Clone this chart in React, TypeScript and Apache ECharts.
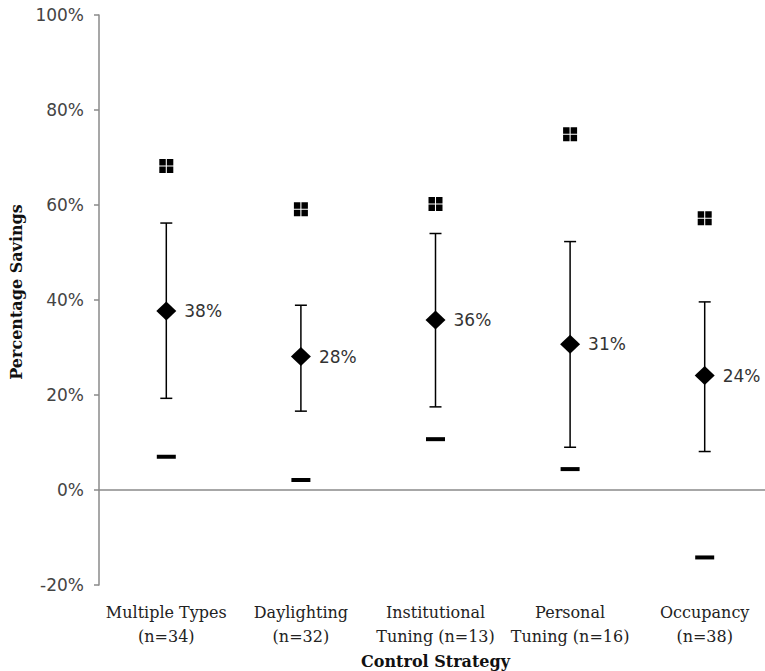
import React, { useEffect, useRef } from "react";
import * as echarts from "echarts";

const categories = [
  "Multiple Types\n(n=34)",
  "Daylighting\n(n=32)",
  "Institutional\nTuning (n=13)",
  "Personal\nTuning (n=16)",
  "Occupancy\n(n=38)",
];
const maxVals = [68.2, 59.1, 60.2, 74.9, 57.2];
const meanVals = [37.7, 28.1, 35.8, 30.7, 24.1];
const upperVals = [56.2, 38.9, 54.0, 52.3, 39.6];
const lowerVals = [19.3, 16.6, 17.5, 9.0, 8.1];
const minVals = [7.0, 2.1, 10.7, 4.4, -14.2];
const yTicks = { min: -20, max: 100, interval: 20 };

const SQUARE_PATH =
  "path://M0,0h6v6h-6z M7,0h6v6h-6z M0,7h6v6h-6z M7,7h6v6h-6z";

export default function App() {
  const ref = useRef<HTMLDivElement>(null);
  useEffect(() => {
    document.body.style.margin = "0";
    const chart = echarts.init(ref.current!, null, { renderer: "svg" });
    const errData = categories.map((_, i) => [i, lowerVals[i], upperVals[i]]);
    chart.setOption({
      animation: false,
      backgroundColor: "#fff",
      grid: {
        left: 99,
        top: 15,
        width: 673,
        height: 570,
        containLabel: false,
        outerBoundsMode: "none",
      },
      xAxis: [
        {
          type: "category",
          data: categories,
          position: "bottom",
          name: "Control Strategy",
          nameLocation: "middle",
          nameGap: 68,
          nameTextStyle: {
            fontFamily: "DejaVu Serif",
            fontWeight: "bold",
            fontSize: 16,
            color: "#111",
          },
          axisLine: { show: false, onZero: false },
          axisTick: { show: false },
          axisLabel: {
            fontFamily: "DejaVu Serif",
            fontSize: 16,
            color: "#222",
            margin: 15,
            lineHeight: 24,
            interval: 0,
          },
        },
        {
          type: "category",
          data: categories,
          position: "bottom",
          axisLine: { show: true, onZero: true, lineStyle: { color: "#8a8a8a", width: 1.5 } },
          axisTick: { show: false },
          axisLabel: { show: false },
        },
      ],
      yAxis: {
        type: "value",
        min: yTicks.min,
        max: yTicks.max,
        interval: yTicks.interval,
        name: "Percentage Savings",
        nameLocation: "middle",
        nameGap: 70,
        nameTextStyle: {
          fontFamily: "DejaVu Serif",
          fontWeight: "bold",
          fontSize: 16,
          color: "#111",
          padding: [0, 0, 0, 16],
        },
        axisLine: { show: true, lineStyle: { color: "#8a8a8a", width: 1.5 } },
        axisTick: { show: true, length: 5, inside: false, lineStyle: { color: "#8a8a8a", width: 1.5 } },
        splitLine: { show: false },
        axisLabel: {
          formatter: "{value}%",
          fontFamily: "DejaVu Sans",
          fontSize: 17,
          color: "#444",
          margin: 15,
        },
      },
      series: [
        {
          type: "custom",
          name: "range",
          data: errData,
          encode: { x: 0, y: [1, 2] },
          z: 2,
          renderItem: (params: any, api: any) => {
            const x = api.value(0);
            const pLo = api.coord([x, api.value(1)]);
            const pHi = api.coord([x, api.value(2)]);
            const w = 6;
            const style = { stroke: "#000", lineWidth: 1.5 };
            return {
              type: "group",
              children: [
                { type: "line", shape: { x1: pHi[0], y1: pHi[1], x2: pLo[0], y2: pLo[1] }, style },
                { type: "line", shape: { x1: pHi[0] - w, y1: pHi[1], x2: pHi[0] + w, y2: pHi[1] }, style },
                { type: "line", shape: { x1: pLo[0] - w, y1: pLo[1], x2: pLo[0] + w, y2: pLo[1] }, style },
              ],
            };
          },
        },
        {
          type: "scatter",
          name: "mean",
          data: meanVals,
          symbol: "diamond",
          symbolSize: [20, 19],
          itemStyle: { color: "#000", opacity: 1 },
          z: 5,
          label: {
            show: true,
            position: "right",
            distance: 8,
            formatter: (p: any) => `${Math.round(p.value)}%`,
            fontFamily: "DejaVu Sans",
            fontSize: 17,
            color: "#333",
          },
        },
        {
          type: "scatter",
          name: "max",
          data: maxVals,
          symbol: SQUARE_PATH,
          symbolSize: 14,
          itemStyle: { color: "#000", opacity: 1 },
          z: 5,
        },
        {
          type: "scatter",
          name: "min",
          data: minVals,
          symbol: "rect",
          symbolSize: [19, 4],
          itemStyle: { color: "#000", opacity: 1 },
          z: 5,
        },
      ],
    });
    return () => chart.dispose();
  }, []);
  return <div ref={ref} style={{ width: 765, height: 671 }} />;
}
